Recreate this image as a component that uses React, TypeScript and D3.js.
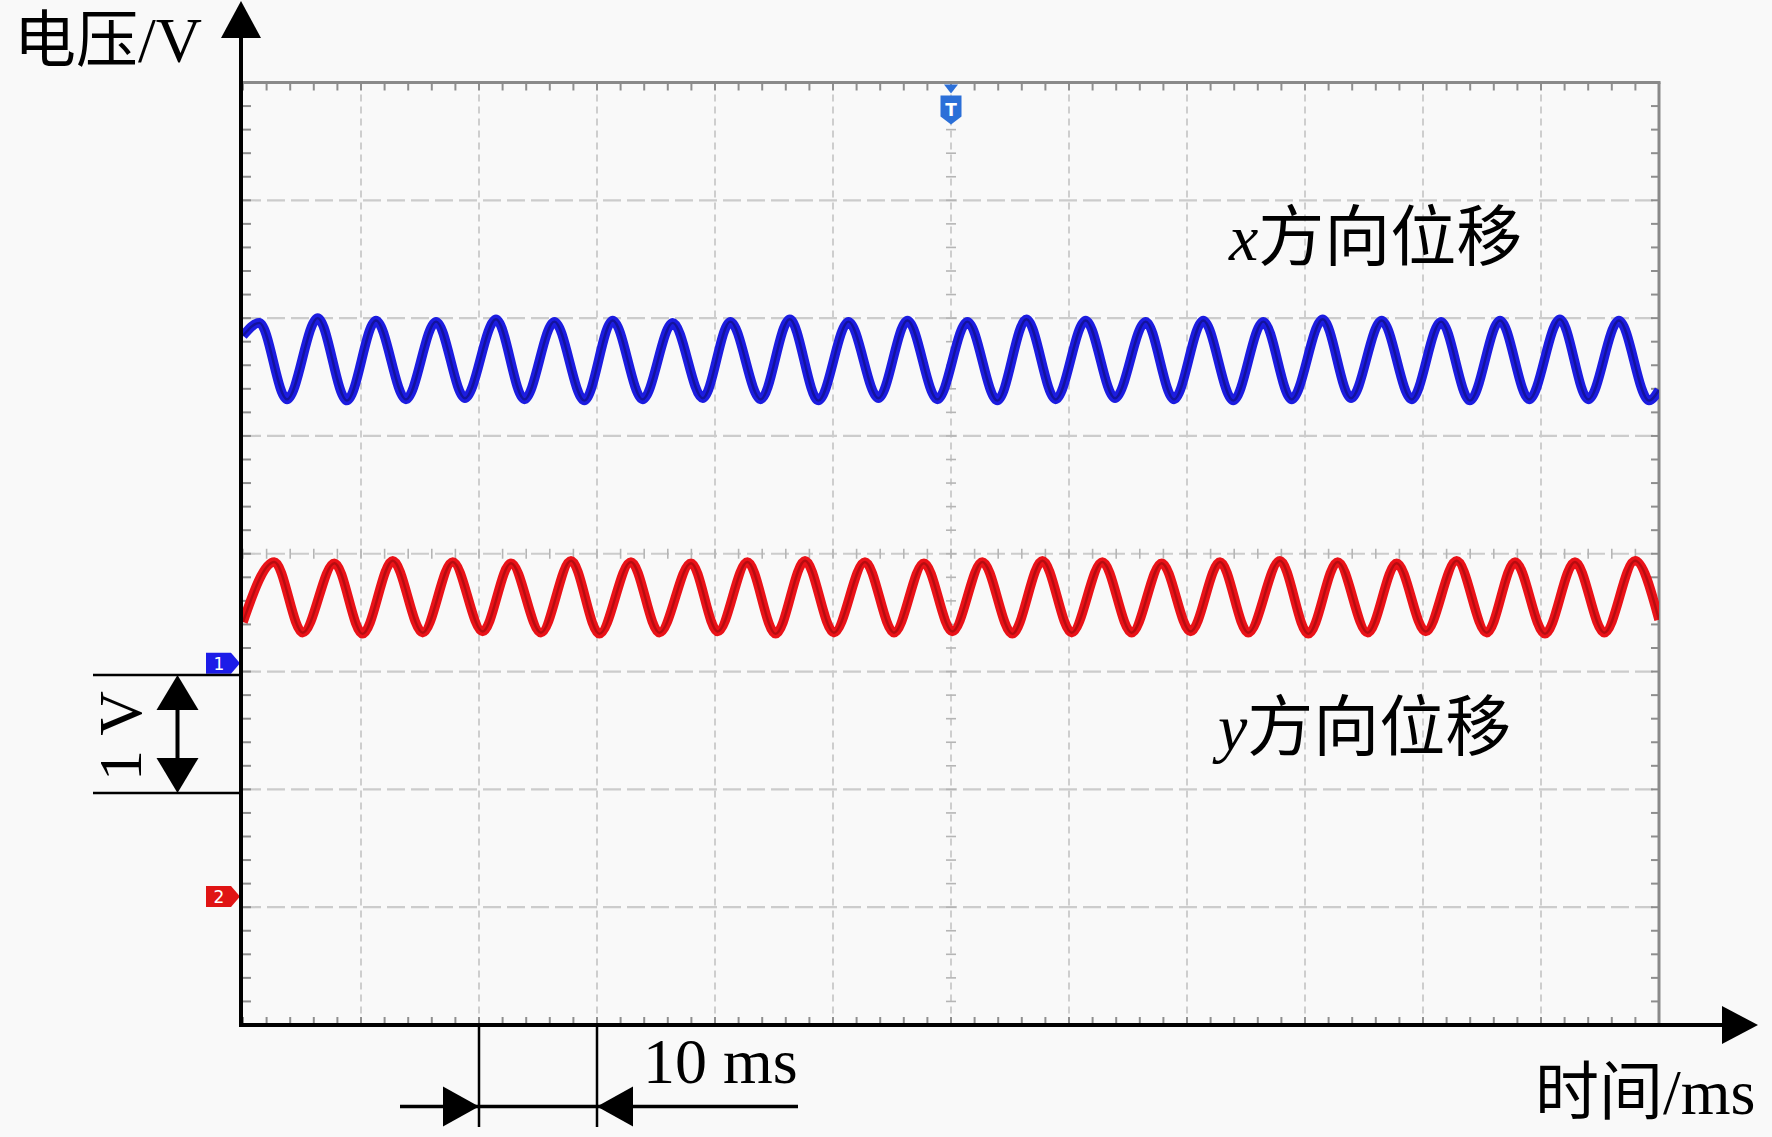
import React from "react";
import * as d3 from "d3";

// ---------------- data ----------------
const timeDomain = [0, 120]; // ms, 12 divisions x 10 ms/div
const divDomain = [-4, 4]; // 8 vertical divisions
const voltsPerDiv = 1; // 1 V/div
const ch1OffsetDiv = -0.93; // channel 1 ground marker
const ch2OffsetDiv = -2.91; // channel 2 ground marker

// x-direction displacement (channel 1, blue): extrema times (ms) and voltages (V)
const xDispTimes = [
  0, 1.39, 3.73, 6.33, 8.81, 11.27, 13.81, 16.36, 18.81, 21.44, 23.85, 26.39, 28.93,
  31.33, 33.87, 36.42, 38.96, 41.3, 43.87, 46.33, 48.76, 51.31, 53.85, 56.31, 58.85,
  61.39, 63.93, 66.39, 68.87, 71.41, 73.9, 76.5, 78.9, 81.38, 83.92, 86.47, 88.87,
  91.5, 93.9, 96.5, 99.04, 101.53, 103.98, 106.53, 109.0, 111.6, 114.01, 116.6, 119.15, 120,
];
const xDispVolts = [
  2.78, 2.89, 2.24, 2.93, 2.23, 2.91, 2.24, 2.9, 2.25, 2.92, 2.24, 2.9, 2.23,
  2.91, 2.24, 2.89, 2.25, 2.9, 2.24, 2.92, 2.23, 2.9, 2.25, 2.91, 2.24,
  2.9, 2.23, 2.92, 2.24, 2.91, 2.25, 2.9, 2.24, 2.91, 2.23, 2.9, 2.24,
  2.92, 2.25, 2.91, 2.24, 2.9, 2.23, 2.91, 2.24, 2.92, 2.24, 2.91, 2.23, 2.32,
];

// y-direction displacement (channel 2, red)
const yDispTimes = [
  0, 2.66, 5.06, 7.75, 10.14, 12.69, 15.23, 17.77, 20.31, 22.71, 25.25, 27.8, 30.2,
  32.88, 35.29, 37.97, 40.23, 42.75, 45.14, 47.63, 50.08, 52.71, 55.17, 57.71, 60.12,
  62.66, 65.2, 67.75, 70.23, 72.83, 75.31, 77.86, 80.31, 82.8, 85.19, 87.88, 90.28,
  92.77, 95.31, 97.77, 100.23, 102.85, 105.4, 107.8, 110.34, 112.88, 115.36, 117.97, 120,
];
const yDispVolts = [
  2.33, 2.84, 2.24, 2.83, 2.23, 2.85, 2.24, 2.84, 2.25, 2.83, 2.24, 2.85, 2.23,
  2.84, 2.24, 2.83, 2.25, 2.84, 2.23, 2.85, 2.24, 2.84, 2.24, 2.83, 2.25,
  2.84, 2.23, 2.85, 2.24, 2.84, 2.24, 2.83, 2.25, 2.84, 2.24, 2.85, 2.23,
  2.84, 2.24, 2.83, 2.25, 2.85, 2.24, 2.84, 2.23, 2.84, 2.24, 2.85, 2.35,
];

const triggerTime = 60; // ms (trigger marker "T")
const timeBar = [20, 30]; // 10 ms scale bar
const voltBarTopDiv = -1.03; // top of the 1 V scale bar
const voltBarLength = 1; // V

const labels = {
  yAxis: ["电压", "/V"],
  xAxis: ["时间", "/ms"],
  xTrace: ["x", "方向位移"],
  yTrace: ["y", "方向位移"],
  timeBar: "10 ms",
  voltBar: "1 V",
};

// ---------------- layout ----------------
const W = 1772;
const H = 1137;
const LEFT = 243;
const RIGHT = 1659;
const TOP = 82.5;
const BOTTOM = 1025;

const SERIF = "'Liberation Serif', 'Times New Roman', serif";
const CJK = "'Noto Sans CJK SC', 'Noto Sans CJK JP', sans-serif";

export default function App() {
  const x = d3.scaleLinear().domain(timeDomain).range([LEFT, RIGHT]);
  const y = d3.scaleLinear().domain(divDomain).range([BOTTOM, TOP]);
  const ch1 = (v: number) => y(ch1OffsetDiv + v / voltsPerDiv);
  const ch2 = (v: number) => y(ch2OffsetDiv + v / voltsPerDiv);

  const blueData = xDispTimes.map((t, i) => [t, xDispVolts[i]] as [number, number]);
  const redData = yDispTimes.map((t, i) => [t, yDispVolts[i]] as [number, number]);

  const blueLine = d3
    .line<[number, number]>()
    .x((d) => x(d[0]))
    .y((d) => ch1(d[1]))
    .curve(d3.curveMonotoneX);
  const redLine = d3
    .line<[number, number]>()
    .x((d) => x(d[0]))
    .y((d) => ch2(d[1]))
    .curve(d3.curveMonotoneX);

  const xDivs = d3.range(1, 12).map((i) => timeDomain[0] + i * 10);
  const yDivs = d3.range(-3, 4);
  const xMinor = d3.range(0, 120.001, 2);
  const yMinor = d3.range(-4, 4.001, 0.2);

  const cx = x(triggerTime);
  const cy = y(0);

  const ch1Y = y(ch1OffsetDiv);
  const ch2Y = y(ch2OffsetDiv);

  const vbTop = y(voltBarTopDiv);
  const vbBot = y(voltBarTopDiv - voltBarLength / voltsPerDiv);
  const vbX = 177.5;

  const tb0 = x(timeBar[0]);
  const tb1 = x(timeBar[1]);
  const tbY = 1106.5;

  const bluePath = blueLine(blueData) || "";
  const redPath = redLine(redData) || "";

  return (
    <svg
      width={W}
      height={H}
      viewBox={`0 0 ${W} ${H}`}
      style={{ position: "absolute", left: 0, top: 0, background: "#f9f9f9" }}
    >
      <defs>
        <clipPath id="plotClip">
          <rect x={LEFT} y={TOP} width={RIGHT - LEFT} height={BOTTOM - TOP} />
        </clipPath>
      </defs>
      <rect x={0} y={0} width={W} height={H} fill="#f9f9f9" />

      {/* grid */}
      <g>
        {xDivs.map((t) => (
          <line
            key={"gv" + t}
            x1={x(t)}
            x2={x(t)}
            y1={TOP}
            y2={BOTTOM}
            stroke="#c4c4c4"
            strokeWidth={1.6}
            strokeDasharray="7 5"
          />
        ))}
        {yDivs.map((d) => (
          <line
            key={"gh" + d}
            x1={LEFT}
            x2={RIGHT}
            y1={y(d)}
            y2={y(d)}
            stroke="#cccccc"
            strokeWidth={2.2}
            strokeDasharray="18 6"
          />
        ))}
        {xMinor.map((t) => (
          <line key={"cmx" + t} x1={x(t)} x2={x(t)} y1={cy - 5} y2={cy + 5} stroke="#b5b5b5" strokeWidth={1.6} />
        ))}
        {yMinor.map((d) => (
          <line key={"cmy" + d} x1={cx - 5} x2={cx + 5} y1={y(d)} y2={y(d)} stroke="#b5b5b5" strokeWidth={1.6} />
        ))}
        {xMinor.map((t) => (
          <g key={"bt" + t}>
            <line x1={x(t)} x2={x(t)} y1={TOP} y2={TOP + 8} stroke="#8e8e8e" strokeWidth={2} />
            <line x1={x(t)} x2={x(t)} y1={BOTTOM - 8} y2={BOTTOM} stroke="#8e8e8e" strokeWidth={2} />
          </g>
        ))}
        {yMinor.map((d) => (
          <g key={"by" + d}>
            <line x1={RIGHT - 8} x2={RIGHT} y1={y(d)} y2={y(d)} stroke="#8e8e8e" strokeWidth={2} />
            <line x1={LEFT} x2={LEFT + 8} y1={y(d)} y2={y(d)} stroke="#8e8e8e" strokeWidth={2} />
          </g>
        ))}
        <line x1={LEFT} x2={RIGHT + 1.5} y1={TOP} y2={TOP} stroke="#8a8a8a" strokeWidth={3} />
        <line x1={RIGHT} x2={RIGHT} y1={TOP} y2={BOTTOM} stroke="#8a8a8a" strokeWidth={3} />
      </g>

      {/* traces */}
      <g clipPath="url(#plotClip)">
        <path d={bluePath} fill="none" stroke="#1c1ce0" strokeWidth={9.5} strokeLinejoin="round" />
        <path d={bluePath} fill="none" stroke="#0a0a5a" strokeWidth={2.4} strokeOpacity={0.5} />
        <path d={redPath} fill="none" stroke="#ea1218" strokeWidth={9.5} strokeLinejoin="round" />
        <path d={redPath} fill="none" stroke="#7a0606" strokeWidth={2.4} strokeOpacity={0.45} />
      </g>

      {/* trigger marker */}
      <g>
        <polygon points={`${cx - 7},${TOP + 2} ${cx + 7},${TOP + 2} ${cx},${TOP + 11}`} fill="#2b6fd8" />
        <path
          d={`M${cx - 10.5},${TOP + 13} H${cx + 10.5} V${TOP + 34} L${cx},${TOP + 42} L${cx - 10.5},${TOP + 34} Z`}
          fill="#2b6fd8"
        />
        <text
          x={cx}
          y={TOP + 33}
          textAnchor="middle"
          fontFamily="'DejaVu Sans', sans-serif"
          fontWeight="bold"
          fontSize={17}
          fill="#ffffff"
        >
          T
        </text>
      </g>

      {/* channel ground markers */}
      <g>
        <path d={`M206,${ch1Y - 10.5} H231 L240,${ch1Y} L231,${ch1Y + 10.5} H206 Z`} fill="#1c1ce8" />
        <text x={219} y={ch1Y + 6.5} textAnchor="middle" fontFamily="'DejaVu Sans', sans-serif" fontSize={17} fill="#fff">
          1
        </text>
        <path d={`M206,${ch2Y - 10.5} H231 L240,${ch2Y} L231,${ch2Y + 10.5} H206 Z`} fill="#e01414" />
        <text x={219} y={ch2Y + 6.5} textAnchor="middle" fontFamily="'DejaVu Sans', sans-serif" fontSize={17} fill="#fff">
          2
        </text>
      </g>

      {/* axes with arrows */}
      <g>
        <line x1={241} x2={241} y1={BOTTOM + 2} y2={30} stroke="#000" strokeWidth={4} />
        <polygon points={`241,1 221,38 261,38`} fill="#000" />
        <line x1={239} x2={1726} y1={BOTTOM} y2={BOTTOM} stroke="#000" strokeWidth={4} />
        <polygon points={`1758,${BOTTOM} 1722,${BOTTOM - 19} 1722,${BOTTOM + 19}`} fill="#000" />
      </g>

      {/* 1 V scale bar */}
      <g>
        <line x1={93} x2={241} y1={vbTop} y2={vbTop} stroke="#000" strokeWidth={2.5} />
        <line x1={93} x2={241} y1={vbBot} y2={vbBot} stroke="#000" strokeWidth={2.5} />
        <line x1={vbX} x2={vbX} y1={vbTop + 20} y2={vbBot - 20} stroke="#000" strokeWidth={4} />
        <polygon points={`${vbX},${vbTop} ${vbX - 21},${vbTop + 35} ${vbX + 21},${vbTop + 35}`} fill="#000" />
        <polygon points={`${vbX},${vbBot} ${vbX - 21},${vbBot - 35} ${vbX + 21},${vbBot - 35}`} fill="#000" />
        <text
          transform={`translate(141, ${(vbTop + vbBot) / 2 + 2}) rotate(-90)`}
          textAnchor="middle"
          fontFamily={SERIF}
          fontSize={62}
          fill="#000"
        >
          {labels.voltBar}
        </text>
      </g>

      {/* 10 ms scale bar */}
      <g>
        <line x1={tb0} x2={tb0} y1={BOTTOM} y2={1127} stroke="#000" strokeWidth={2.5} />
        <line x1={tb1} x2={tb1} y1={BOTTOM} y2={1127} stroke="#000" strokeWidth={2.5} />
        <line x1={400} x2={798} y1={tbY} y2={tbY} stroke="#000" strokeWidth={3.5} />
        <polygon points={`${tb0},${tbY} ${tb0 - 36},${tbY - 20} ${tb0 - 36},${tbY + 20}`} fill="#000" />
        <polygon points={`${tb1},${tbY} ${tb1 + 36},${tbY - 20} ${tb1 + 36},${tbY + 20}`} fill="#000" />
        <text x={643} y={1083} fontFamily={SERIF} fontSize={64} fill="#000">
          {labels.timeBar}
        </text>
      </g>

      {/* axis titles */}
      <text x={14} y={62} fontSize={62} fill="#000">
        <tspan fontFamily={CJK}>{labels.yAxis[0]}</tspan>
        <tspan fontFamily={SERIF} fontSize={64}>{labels.yAxis[1]}</tspan>
      </text>
      <text x={1535} y={1114} fontSize={64} fill="#000">
        <tspan fontFamily={CJK}>{labels.xAxis[0]}</tspan>
        <tspan fontFamily={SERIF}>{labels.xAxis[1]}</tspan>
      </text>

      {/* trace labels */}
      <text x={1229} y={260} fontSize={66} fill="#000">
        <tspan fontFamily={SERIF} fontStyle="italic">
          {labels.xTrace[0]}
        </tspan>
        <tspan fontFamily={CJK}>{labels.xTrace[1]}</tspan>
      </text>
      <text x={1218} y={750} fontSize={66} fill="#000">
        <tspan fontFamily={SERIF} fontStyle="italic">
          {labels.yTrace[0]}
        </tspan>
        <tspan fontFamily={CJK}>{labels.yTrace[1]}</tspan>
      </text>
    </svg>
  );
}
